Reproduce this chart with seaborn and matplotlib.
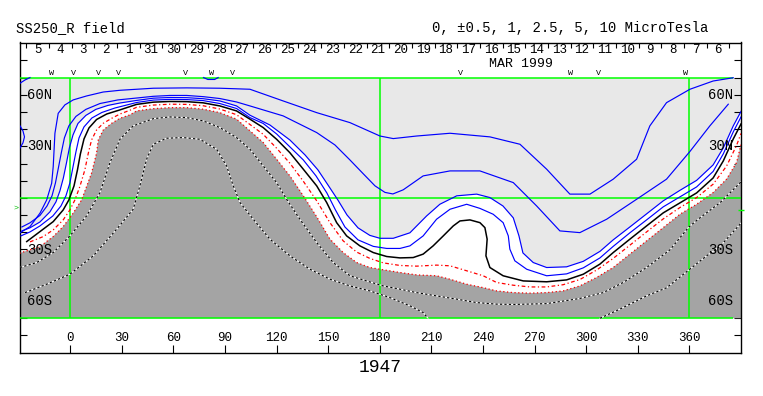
import matplotlib
matplotlib.use("Agg")
import matplotlib.pyplot as plt
import seaborn as sns

# ---------------- values: (longitude, latitude) ----------------
grey_edge = [(-29.5, -32.2), (-17.6, -28.3), (-9.9, -22.5), (-4.1, -16.7), (1.7, -8.9), (6.6, -1.2),
             (9.5, 6.6), (12.4, 14.4), (15.3, 26.0), (16.3, 33.7), (19.2, 39.5), (24.1, 43.4),
             (28.9, 46.3), (34.7, 48.3), (38.6, 50.6), (48.3, 51.9), (58.0, 52.5), (67.7, 52.5),
             (77.3, 51.6), (87.0, 49.6), (96.7, 45.8), (104.5, 39.0), (112.2, 32.2), (120.0, 22.5),
             (127.7, 12.8), (135.5, 1.2), (143.3, -11.0), (151.0, -24.0), (158.7, -31.8), (166.5, -37.6),
             (174.2, -40.5), (180.1, -41.5), (191.7, -43.4), (201.4, -44.8), (213.0, -45.3), (220.8, -47.3),
             (230.5, -50.2), (240.1, -52.2), (247.9, -54.1), (257.6, -55.1), (267.3, -55.4), (277.0, -55.1),
             (286.6, -54.1), (296.3, -51.2), (306.0, -46.3), (315.7, -40.5), (325.4, -32.7), (335.1, -25.0),
             (344.8, -17.3), (354.5, -9.5), (364.2, -3.7), (373.8, 3.1), (381.6, 10.9), (387.4, 20.5),
             (390.0, 31.0)]

red_dashdot = [(-23.4, -25.6), (-15.7, -22.5), (-9.9, -18.6), (-4.1, -12.8), (-0.2, -7.0), (2.7, -1.2),
               (5.6, 6.6), (8.5, 16.3), (10.5, 26.0), (12.4, 33.7), (15.3, 39.5), (19.2, 43.4),
               (24.1, 46.3), (28.9, 48.8), (34.7, 51.0), (38.6, 52.7), (48.3, 54.0), (58.0, 54.5),
               (67.7, 54.4), (77.3, 53.6), (87.0, 51.7), (96.7, 48.4), (104.5, 42.7), (112.2, 37.0),
               (120.0, 28.9), (127.7, 20.2), (135.5, 9.7), (143.3, -1.7), (151.0, -14.4), (158.7, -25.0),
               (166.5, -31.5), (174.2, -35.2), (182.0, -37.8), (191.7, -39.3), (201.4, -39.7), (213.0, -39.1),
               (220.8, -39.5), (230.5, -42.4), (240.1, -45.3), (247.9, -49.2), (257.6, -50.8), (267.3, -51.8),
               (277.0, -51.8), (286.6, -50.5), (296.3, -47.5), (306.0, -42.0), (315.7, -35.2), (325.4, -27.5),
               (335.1, -19.8), (344.8, -12.2), (354.5, -5.6), (364.2, 0.2), (373.8, 8.0), (381.6, 18.5),
               (387.4, 30.5), (390.0, 37.5)]

zero_line = [(-25.3, -25.4), (-17.6, -19.6), (-9.9, -13.8), (-4.1, -7.0), (-0.8, -1.2), (2.2, 7.0),
             (4.2, 16.3), (5.9, 25.6), (8.0, 34.3), (10.9, 40.7), (15.3, 45.6), (21.2, 48.8),
             (28.9, 51.2), (38.6, 54.4), (48.3, 55.7), (58.0, 56.1), (67.7, 56.0), (77.3, 55.3),
             (87.0, 53.5), (96.7, 50.6), (104.5, 45.8), (112.2, 40.9), (120.0, 34.1), (127.7, 26.3),
             (135.5, 16.7), (143.3, 7.0), (149.1, -2.7), (154.9, -14.4), (160.7, -22.1), (168.4, -27.9),
             (176.2, -31.8), (184.0, -34.1), (191.7, -34.9), (199.4, -34.7), (205.2, -32.7), (211.0, -27.9),
             (216.9, -22.1), (222.7, -16.3), (226.6, -13.4), (232.4, -12.8), (238.2, -14.4), (241.1, -17.3),
             (242.4, -24.0), (241.7, -33.7), (244.0, -40.5), (251.7, -45.3), (263.4, -48.3), (277.0, -48.8),
             (288.6, -47.7), (298.3, -44.4), (308.0, -38.5), (315.7, -31.8), (325.4, -24.0), (335.1, -16.3),
             (344.8, -8.7), (354.5, -2.9), (364.2, 2.9), (373.8, 11.6), (379.7, 21.5), (385.5, 34.3),
             (390.0, 43.0)]

blue_05 = [(-28.7, -22.1), (-23.4, -19.8), (-17.6, -16.3), (-10.1, -10.5), (-5.4, -4.7), (-2.5, 1.2),
           (-0.2, 8.7), (1.6, 18.0), (3.3, 26.7), (5.1, 34.9), (8.0, 41.3), (12.6, 46.5), (18.4, 49.7),
           (26.0, 52.3), (38.6, 55.5), (48.3, 56.9), (58.0, 57.3), (67.7, 57.2), (77.3, 56.6), (87.0, 54.9),
           (96.7, 52.0), (104.5, 46.7), (112.2, 43.3), (120.0, 37.2), (127.7, 29.7), (135.5, 22.1),
           (142.9, 12.8), (149.2, 2.9), (154.2, -7.0), (159.7, -16.9), (167.3, -24.4), (176.2, -28.2),
           (184.0, -29.4), (191.7, -29.4), (197.5, -27.9), (205.2, -22.1), (213.0, -12.4), (220.8, -6.6),
           (230.5, -3.7), (238.2, -6.1), (245.9, -9.5), (251.7, -14.4), (254.7, -22.1), (255.6, -29.8),
           (258.5, -36.6), (265.4, -41.5), (277.0, -45.3), (288.6, -44.2), (298.3, -40.7), (308.0, -34.9),
           (315.7, -28.2), (325.4, -20.3), (335.1, -12.8), (344.8, -5.2), (354.5, 0.6), (364.2, 6.4),
           (373.8, 15.4), (379.7, 25.6), (385.5, 38.4), (390.0, 47.1)]

blue_1 = [(-28.1, -19.2), (-23.4, -17.4), (-17.6, -14.0), (-11.8, -8.1), (-8.3, -2.3), (-6.0, 4.1),
          (-4.0, 11.6), (-2.2, 20.3), (-0.5, 29.1), (1.6, 36.6), (4.5, 43.3), (9.1, 48.0), (14.9, 51.5),
          (21.9, 53.8), (28.9, 55.2), (38.6, 56.7), (48.3, 58.0), (58.0, 58.4), (67.7, 58.3), (77.3, 57.7),
          (87.0, 56.4), (96.7, 53.5), (104.5, 48.1), (116.1, 42.4), (127.7, 33.7), (136.5, 25.0),
          (144.0, 16.3), (149.8, 7.6), (155.6, -1.2), (160.9, -9.9), (167.3, -17.4), (174.2, -21.8),
          (180.1, -23.5), (187.8, -23.5), (197.5, -20.3), (207.2, -10.5), (214.9, -3.7), (224.7, 1.2),
          (236.3, 2.2), (244.0, 0.2), (251.6, -4.7), (257.6, -11.6), (260.9, -22.1), (263.2, -32.0),
          (269.2, -37.6), (277.0, -40.5), (288.6, -40.1), (298.3, -36.9), (308.0, -31.1), (315.7, -24.4),
          (325.4, -16.9), (335.1, -9.3), (344.8, -1.7), (354.5, 4.4), (364.2, 10.2), (373.8, 19.2),
          (379.7, 29.1), (385.5, 41.9), (390.0, 50.3)]

blue_25 = [(-28.1, -16.9), (-23.4, -14.5), (-17.6, -10.2), (-13.5, -4.7), (-10.6, 1.2), (-8.6, 8.7),
           (-6.9, 17.4), (-5.1, 26.7), (-3.4, 34.9), (-0.8, 41.9), (3.3, 47.4), (9.1, 51.5), (17.3, 54.9),
           (27.7, 57.0), (38.6, 58.1), (48.3, 59.1), (58.0, 59.6), (67.7, 59.6), (77.3, 58.9), (87.0, 57.8),
           (96.7, 55.8), (104.5, 53.5), (123.8, 47.7), (143.3, 38.0), (153.9, 30.8), (162.6, 22.1),
           (170.4, 14.0), (177.2, 7.0), (183.0, 3.2), (187.6, 2.3), (193.6, 4.7), (205.2, 12.8),
           (220.8, 15.7), (238.2, 15.7), (257.6, 8.9), (271.2, -4.7), (284.7, -19.2), (296.3, -20.2),
           (311.9, -12.4), (329.3, -0.8), (346.7, 10.9), (360.3, 27.0), (371.9, 41.9), (382.6, 54.5)]

blue_5 = [(-29.2, -20.3), (-23.4, -16.7), (-17.6, -8.9), (-13.7, -1.2), (-10.8, 8.5), (-9.9, 18.2),
          (-8.9, 37.6), (-7.0, 49.2), (-3.1, 54.1), (1.7, 57.0), (9.5, 59.3), (19.2, 61.6), (28.9, 62.6),
          (48.3, 63.8), (67.7, 64.0), (87.0, 63.8), (104.5, 63.2), (123.8, 56.4), (143.3, 49.6),
          (162.6, 43.8), (180.1, 36.0), (187.8, 34.5), (201.4, 36.0), (220.8, 37.6), (244.0, 35.5),
          (261.5, 31.2), (277.0, 16.7), (290.5, 2.2), (302.2, 2.2), (315.7, 10.9), (329.3, 22.5),
          (337.0, 41.9), (346.7, 55.4), (360.3, 63.2), (373.8, 68.0), (385.5, 69.9)]

blue_10_left = [(-29.2, 41.9), (-27.5, 39.0), (-26.6, 35.5), (-27.5, 32.0), (-29.2, 29.1)]
blue_10_corner = [(-29.2, 66.7), (-26.3, 68.6), (-23.4, 70.0)]
blue_10_top = [(77.5, 70.0), (80.0, 68.9), (84.0, 68.9), (86.0, 70.0)]

neg_dotted_1 = [(-29.2, -40.5), (-19.5, -37.6), (-9.9, -31.8), (-0.2, -22.1), (9.5, -10.5), (17.3, 3.1),
                (23.1, 20.5), (28.9, 34.1), (36.6, 41.9), (48.3, 46.1), (58.0, 47.1), (67.7, 46.7),
                (77.3, 44.8), (87.0, 40.9), (96.7, 35.1), (104.5, 28.3), (112.2, 18.6), (120.0, 8.9),
                (125.8, -0.8), (133.5, -12.4), (143.3, -26.0), (152.9, -37.6), (162.6, -45.3), (172.3, -48.3),
                (182.0, -51.2), (191.7, -53.1), (201.4, -55.1), (213.0, -57.0), (224.7, -58.9), (236.3, -60.9),
                (247.9, -61.8), (257.6, -62.0), (277.0, -61.5), (296.3, -58.5), (309.9, -55.1), (321.5, -49.2),
                (335.1, -40.5), (348.7, -30.2), (359.7, -16.9), (366.1, -11.6), (377.7, -2.9), (390.0, 9.3)]

neg_dotted_2a = [(-26.3, -55.1), (-13.7, -50.2), (-0.2, -44.4), (13.4, -33.7), (27.0, -18.2), (36.6, -6.6),
                 (40.5, 7.0), (44.4, 22.5), (48.3, 31.2), (56.0, 34.7), (65.7, 35.1), (75.4, 34.1),
                 (85.1, 28.3), (90.9, 18.6), (94.8, 7.0), (98.7, -2.7), (106.4, -12.4), (116.1, -24.0),
                 (127.7, -33.7), (139.4, -41.5), (151.0, -47.3), (162.6, -51.2), (174.2, -54.1), (185.9, -58.0),
                 (197.5, -62.8), (205.2, -66.7), (208.0, -70.0)]
neg_dotted_2b = [(308.0, -70.0), (319.6, -64.7), (335.1, -57.0), (346.7, -52.3), (359.7, -41.9),
                 (370.0, -33.7), (377.7, -28.3), (390.0, -14.7)]

lon_ticks = [0, 30, 60, 90, 120, 150, 180, 210, 240, 270, 300, 330, 360]
lat_ticks = [-80, -70, -60, -50, -40, -30, -20, -10, 0, 10, 20, 30, 40, 50, 60, 70, 80]
lat_label_pos = [60, 30, -30, -60]
lat_label_txt = ["60N", "30N", "30S", "60S"]
grid_lons = [0, 180, 360]
grid_lats = [-70, 0, 70]

day_ticks = [-25.5, -12.3, 0.9, 14.1, 27.2, 40.4, 53.6, 66.8, 80.0, 93.2, 106.4, 119.6, 132.7, 145.9,
             159.1, 172.3, 185.5, 198.7, 211.9, 225.1, 238.2, 251.4, 264.6, 277.8, 291.0, 304.2, 317.4,
             330.5, 343.7, 356.9, 370.1, 383.3]
day_labels = ["5", "4", "3", "2", "1", "31", "30", "29", "28", "27", "26", "25", "24", "23", "22", "21",
              "20", "19", "18", "17", "16", "15", "14", "13", "12", "11", "10", "9", "8", "7", "6"]

mark_lon = [-11.0, 2.1, 16.6, 28.3, 67.2, 81.9, 94.5, 226.6, 290.9, 307.0, 357.9]
mark_txt = ["W", "V", "V", "V", "V", "W", "V", "V", "W", "V", "W"]
earth_lat = -6.0

# ---------------- styling ----------------
plt.rcParams["font.family"] = ["Liberation Mono", "DejaVu Sans"]
LIGHT = "#e8e8e8"
DARK = "#a4a4a4"
GREEN = "#00ff00"
BLUE = "#0000ff"
RED = "#ff0000"
XMIN, XMAX = -29.5, 390.0
YMIN, YMAX = -90.4, 90.4
FX0, FX1 = -29.5, 385.5   # horizontal extent of the green frame

W, H = 763, 396
fig = plt.figure(figsize=(W / 100, H / 100), dpi=100)
ax = fig.add_axes([19.5 / W, 1 - 353.3 / H, (741 - 19.5) / W, (353.3 - 42.5) / H])


def lon_of(pts):
    return [p[0] for p in pts]


def lat_of(pts):
    return [p[1] for p in pts]


def draw(pts, **kw):
    sns.lineplot(x=lon_of(pts), y=lat_of(pts), sort=False, estimator=None,
                 ax=ax, legend=False, **kw)


# fills
ax.fill_between([XMIN, XMAX], -70, 70, color=LIGHT, lw=0, zorder=0)
wx = [XMIN] + lon_of(blue_1) + lon_of(grey_edge)[::-1]
wy = [lat_of(blue_1)[0]] + lat_of(blue_1) + lat_of(grey_edge)[::-1]
ax.fill(wx, wy, color="white", lw=0, zorder=1)
dx = lon_of(grey_edge) + [XMAX, XMIN]
dy = lat_of(grey_edge) + [-70, -70]
ax.fill(dx, dy, color=DARK, lw=0, zorder=2)

# green frame / grid
ax.hlines([grid_lats[0], grid_lats[2]], FX0, FX1, color=GREEN, lw=1.1, zorder=3)
ax.hlines([grid_lats[1]], XMIN, XMAX, color=GREEN, lw=1.1, zorder=3)
ax.vlines(grid_lons, -70, 70, color=GREEN, lw=1.1, zorder=3)

# contour lines
for pts in (neg_dotted_1, neg_dotted_2a, neg_dotted_2b):
    draw(pts, color="white", linewidth=0.8, zorder=4)
    draw(pts, color="black", linewidth=0.8, linestyle=(0, (2, 2)), zorder=5)
draw(grey_edge, color=RED, linewidth=0.9, linestyle=(0, (1, 2)), zorder=5)
draw(red_dashdot, color=RED, linewidth=0.9, linestyle=(0, (3, 2, 1, 2)), zorder=5)
for pts in (blue_05, blue_1, blue_25, blue_5, blue_10_left, blue_10_corner, blue_10_top):
    draw(pts, color=BLUE, linewidth=0.85, zorder=5)
draw(zero_line, color="black", linewidth=1.1, zorder=6)

# axes, ticks
ax.set_xlim(XMIN, XMAX)
ax.set_ylim(YMIN, YMAX)
for s in ax.spines.values():
    s.set_linewidth(1.0)
    s.set_color("black")
ax.set_xticks(lon_ticks)
ax.set_yticks(lat_ticks)
ax.tick_params(axis="x", bottom=True, top=False, direction="in", length=5.8, width=0.8,
               labelbottom=False)
ax.tick_params(axis="y", left=True, right=True, direction="in", length=5.2, width=0.8,
               labelleft=False, labelright=False)
ax.set_xlabel("")
ax.set_ylabel("")

tw = ax.twiny()
tw.set_xlim(XMIN, XMAX)
tw.set_xticks(day_ticks)
tw.tick_params(axis="x", top=True, bottom=False, direction="in", length=3.6, width=0.8,
               labeltop=False, labelbottom=False)
for s in tw.spines.values():
    s.set_visible(False)

# texts
for lon in lon_ticks:
    ax.text(lon, -83.5, str(lon), ha="center", va="baseline", fontsize=9, clip_on=False)
for lat, txt in zip(lat_label_pos, lat_label_txt):
    ax.text(-25.2, lat - 2.4, txt, ha="left", va="baseline", fontsize=10, zorder=7)
    ax.text(385.5, lat - 2.4, txt, ha="right", va="baseline", fontsize=10, zorder=7)
for i, txt in enumerate(day_labels):
    ax.text((day_ticks[i] + day_ticks[i + 1]) / 2, 84.1, txt, ha="center", va="baseline",
            fontsize=9, clip_on=False)
ax.text(262, 76.4, "MAR 1999", ha="center", va="baseline", fontsize=9.5)
for lon, txt in zip(mark_lon, mark_txt):
    ax.text(lon, 71.4, txt, ha="center", va="baseline", fontsize=6)
ax.text(-31.8, earth_lat, ">", ha="center", va="center", fontsize=6, color="#00c000",
        clip_on=False)
ax.hlines([earth_lat - 1.0], 388.2, 391.5, color=GREEN, lw=1.0, clip_on=False, zorder=8)

fig.text(16 / W, 1 - 31.7 / H, "SS250_R field", ha="left", va="baseline", fontsize=10)
fig.text(432 / W, 1 - 31.7 / H, "0, \u00b10.5, 1, 2.5, 5, 10 MicroTesla", ha="left",
         va="baseline", fontsize=10)
fig.text(380 / W, 1 - 371.7 / H, "1947", ha="center", va="baseline", fontsize=13)

fig.savefig("out.png", dpi=100, facecolor="white")
